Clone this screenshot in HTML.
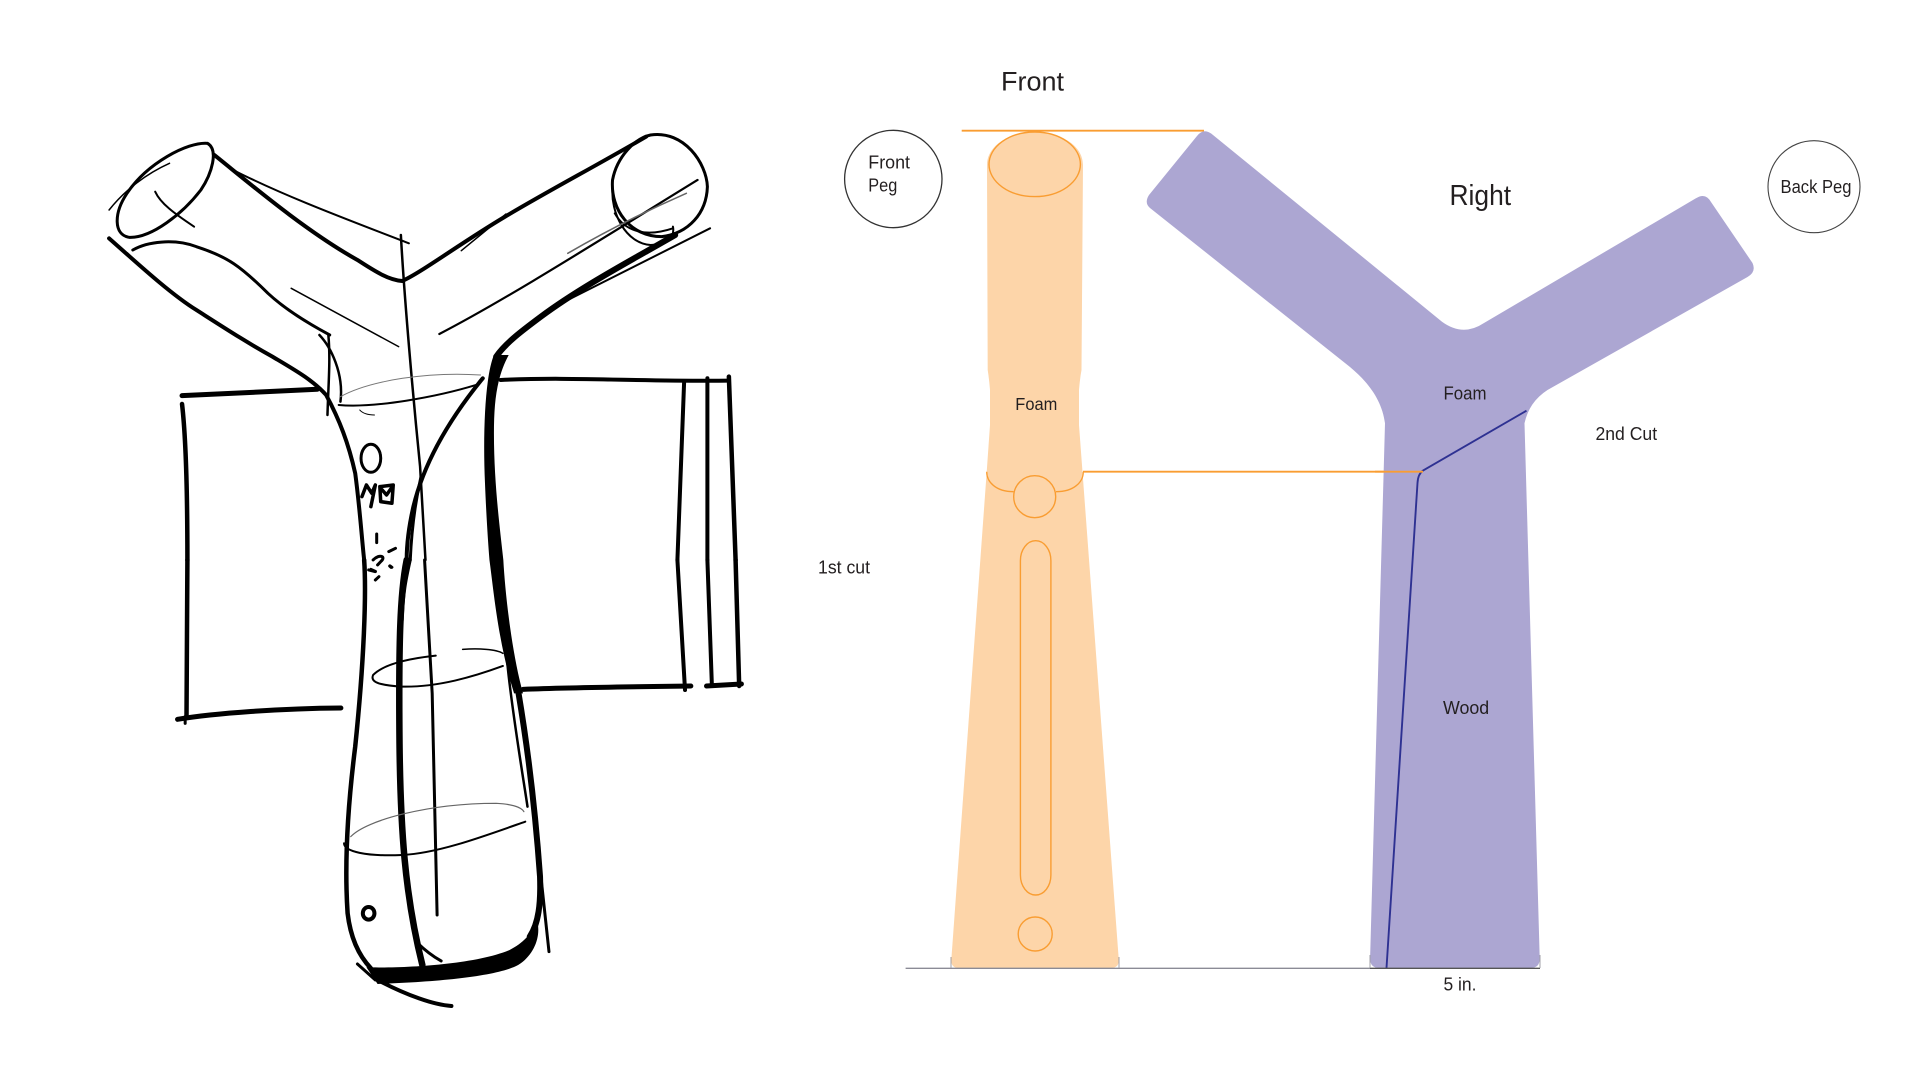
<!DOCTYPE html>
<html><head><meta charset="utf-8"><style>
html,body{margin:0;padding:0;background:#fff;width:1920px;height:1080px;overflow:hidden}
svg{display:block}
text{font-family:"Liberation Sans",sans-serif;fill:#231f20}
.s path,.s ellipse{fill:none;stroke:#000;stroke-linecap:round;stroke-linejoin:round;vector-effect:non-scaling-stroke}
.s .f{fill:#000;stroke:none}
</style></head><body>
<svg width="1920" height="1080" viewBox="0 0 1920 1080" xmlns="http://www.w3.org/2000/svg">
<rect width="1920" height="1080" fill="#fff"/>

<!-- Sketch upper -->
<g class="s" transform="translate(80,100) scale(.4475,.3333)">
<path stroke-width="3" d="M285,130 C240,125 150,190 105,280 C75,340 75,405 110,412 C160,415 230,340 270,270 C295,220 310,150 285,130"/>
<path stroke-width="1.5" d="M65,330 C100,270 150,220 200,190"/>
<path stroke-width="2" d="M168,275 C180,310 210,340 255,380"/>
<path stroke-width="4" d="M300,165 C370,240 500,390 620,480 C660,515 690,540 720,543 C760,520 850,430 950,350 C1050,270 1150,200 1265,110"/>
<path stroke-width="2" d="M335,205 C450,285 600,360 735,430"/>
<path stroke-width="2.5" d="M717,405 C725,600 745,900 760,1100 L772,1380"/>
<path stroke-width="1.5" d="M852,452 L952,342"/>
<path stroke-width="3" d="M1275,105 C1350,90 1400,190 1402,260 C1400,340 1360,400 1300,410 C1230,410 1185,330 1190,240 C1200,170 1240,115 1275,105"/>
<path stroke-width="2" d="M1190,260 C1185,340 1220,430 1275,435 C1310,435 1330,410 1325,380"/>
<path stroke-width="2" d="M1195,340 C1220,400 1270,410 1325,385"/>
<path stroke-width="2.2" d="M803,702 C950,600 1150,430 1380,240"/>
<path stroke-width="1.5" style="stroke:#666" d="M1090,460 C1180,390 1270,330 1355,280"/>
<path stroke-width="4" d="M65,415 C120,480 200,580 260,630 C330,690 370,725 430,770 C480,810 520,840 550,885 C580,960 600,1030 615,1120 C625,1220 630,1320 635,1380"/>
<path stroke-width="3" d="M118,450 C150,425 210,415 260,440 C330,470 360,500 420,580 C460,630 510,670 558,705"/>
<path stroke-width="2.5" d="M535,705 C560,740 590,820 582,905"/>
<path stroke-width="2.5" d="M555,705 C560,780 555,850 553,945"/>
<path stroke-width="1.5" d="M472,565 L712,740"/>
<path stroke-width="1" style="stroke:#777" d="M582,890 C650,840 780,815 895,825"/>
<path stroke-width="2" d="M578,915 C660,925 800,890 885,855"/>
<path stroke-width="1" d="M625,930 Q635,945 658,945"/>
<path stroke-width="6" d="M1330,405 C1240,475 1120,560 1030,650 C990,690 950,730 930,770"/>
<path class="f" d="M925,765 C905,830 900,1000 905,1150 C908,1250 912,1330 915,1380 L946,1380 C938,1280 925,1150 925,1000 C925,900 932,830 958,765 Z"/>
<path stroke-width="4" d="M900,835 C830,950 770,1080 745,1220 C733,1290 730,1340 730,1380"/>
<path stroke-width="3" d="M762,1130 C745,1230 740,1320 738,1380"/>
<path stroke-width="2" d="M1408,385 L1090,600"/>
<path stroke-width="5" d="M228,887 L530,868"/>
<path stroke-width="4.5" d="M228,912 C240,1050 240,1300 240,1380"/>
<path stroke-width="4" d="M940,840 C1100,830 1250,845 1450,842"/>
<path stroke-width="4" d="M1350,845 L1335,1380"/>
<path stroke-width="4" d="M1402,835 L1402,1380"/>
<path stroke-width="4.5" d="M1450,830 L1465,1380"/>
<ellipse stroke-width="3" cx="650" cy="1075" rx="22" ry="42"/>
<path stroke-width="3.5" d="M630,1190 L640,1155 L652,1180 L660,1155 L650,1220"/>
<path stroke-width="3.5" d="M670,1160 L700,1155 L697,1210 L672,1205 Z M672,1165 L685,1185 L698,1160"/>
<path stroke-width="3" d="M663,1302 L663,1328 M690,1355 L705,1345 M655,1380 C670,1360 685,1370 672,1385 L665,1395 M693,1398 L697,1402 M645,1410 L660,1415"/>
</g>

<!-- Sketch lower -->
<g class="s" transform="translate(80,560) scale(.4475,.3333)">
<path stroke-width="4.5" d="M240,0 L238,470"/>
<path stroke-width="5" d="M218,478 C300,460 450,445 583,444"/>
<path stroke-width="3" d="M235,470 L235,490"/>
<path stroke-width="4.5" d="M635,0 C640,100 635,300 615,560 C600,720 590,900 598,1060 C605,1140 625,1190 650,1225"/>
<path stroke-width="6.5" d="M730,0 C715,100 712,250 714,550 C716,800 725,1000 765,1215"/>
<path stroke-width="3" d="M738,0 C728,60 722,100 720,180"/>
<path stroke-width="3" d="M755,1150 C770,1170 790,1190 807,1203"/>
<path stroke-width="3" d="M770,0 L787,400 L798,1065"/>
<path class="f" d="M915,0 C925,100 935,250 970,400 L990,400 C965,280 950,100 946,0 Z"/>
<path stroke-width="6" d="M980,400 C1005,600 1020,800 1028,950 C1030,1030 1025,1090 1005,1130"/>
<path stroke-width="2.5" d="M955,310 C965,450 990,650 1000,740"/>
<path stroke-width="3" d="M1030,950 L1048,1175"/>
<path stroke-width="2" d="M795,287 C740,295 680,310 655,345 C650,360 655,375 720,380 C800,382 880,350 945,318"/>
<path stroke-width="1.5" d="M855,268 C890,265 930,267 945,280"/>
<path stroke-width="1.2" style="stroke:#666" d="M605,830 C640,780 780,730 930,730 C960,732 985,740 992,755"/>
<path stroke-width="2" d="M590,850 C590,875 640,890 720,885 C800,880 900,830 995,785"/>
<path stroke-width="5" d="M990,388 C1100,382 1250,380 1365,378"/>
<path stroke-width="4" d="M1335,0 L1352,390"/>
<path stroke-width="4" d="M1402,0 L1412,375"/>
<path stroke-width="4.5" d="M1465,0 L1473,378"/>
<path stroke-width="5" d="M1400,378 L1478,372"/>
<path class="f" d="M640,1222 C720,1225 880,1215 960,1170 C990,1150 1010,1120 1022,1085 C1030,1130 1015,1180 985,1210 C950,1245 820,1265 665,1272 Z"/>
<path stroke-width="3" d="M620,1212 L660,1260"/>
<path stroke-width="4" d="M672,1265 C730,1305 790,1335 830,1338"/>
<ellipse stroke-width="4" cx="645" cy="1060" rx="13" ry="19"/>
<path stroke-width="3" d="M650,28 L660,34 M668,50 L660,60 M692,18 L695,22"/>
</g>

<!-- Front view -->
<path fill="#fdd5a9" d="M987,165 C987,145 1010,132 1035,132 C1060,132 1083,145 1083,165 L1081.5,370 Q1080,378 1079,390 L1079,425 L1082.5,472 L1118.8,960 Q1119,968 1111,968 L959,968 Q951,968 951.3,960 L986.7,472 L990,425 L990,390 Q989,378 987.7,370 Z"/>
<g fill="none" stroke="#f99d32">
<path stroke-width="1.8" d="M961.7,130.7 L1204,130.7"/>
<ellipse stroke-width="1.4" cx="1034.7" cy="164.3" rx="45.7" ry="32.3"/>
<path stroke-width="1.8" d="M1083,471.7 L1423,471.7"/>
<path stroke-width="1.3" d="M986.7,471.7 C986.7,482 996,491.7 1013.6,491.7"/>
<path stroke-width="1.3" d="M1056,491.7 C1074,491.7 1083.3,482 1083.3,471.7"/>
<circle stroke-width="1.4" cx="1034.7" cy="496.7" r="21"/>
<rect stroke-width="1.4" x="1020.4" y="540.7" width="30.5" height="354.3" rx="15.2" ry="20"/>
<circle stroke-width="1.4" cx="1035.2" cy="934" r="17"/>
</g>

<!-- Right view -->
<path fill="#aca6d2" d="M1197,136 Q1204,127 1213,135 L1442,321.7 Q1463,337 1484,323 L1695.5,198.5 Q1705.5,192 1711,202 L1752.5,263 Q1756.5,272 1747.5,277 L1547.5,390 Q1529,402 1524.5,423.3 L1539.7,958 Q1540,968 1530.5,968 L1379.5,968 Q1369.8,968 1370.1,958 L1385,423.3 C1382,400 1368,382 1350,367 L1150,208 Q1144,203 1149,195 Z"/>
<path fill="none" stroke="#2e3192" stroke-width="1.9" d="M1526.5,410.7 L1423,470.5 Q1418,474 1417.5,483 L1386.5,968"/>
<path fill="none" stroke="#f99d32" stroke-width="1.8" d="M1375,471.7 L1423,471.7"/>

<!-- Baseline -->
<path fill="none" stroke="#8b8b96" stroke-width="1.3" d="M905.6,968.3 L1370,968.3"/>
<path fill="none" stroke="#555" stroke-width="1.3" d="M1370,968.3 L1540,968.3"/>
<path fill="none" stroke="#a0a0a8" stroke-width="1" d="M951,957 L951,968 M1119,957 L1119,968 M1370,955 L1370,968 M1540,955 L1540,968"/>

<!-- Pegs -->
<circle cx="893.3" cy="179" r="48.7" fill="#fff" stroke="#333" stroke-width="1.3"/>
<circle cx="1814" cy="186.7" r="46" fill="#fff" stroke="#444" stroke-width="1.1"/>

<!-- Labels -->
<text x="1001" y="90.7" font-size="27" textLength="63" lengthAdjust="spacingAndGlyphs">Front</text>
<text x="868.3" y="168.7" font-size="18" textLength="41.7" lengthAdjust="spacingAndGlyphs">Front</text>
<text x="868.3" y="191.7" font-size="18" textLength="29" lengthAdjust="spacingAndGlyphs">Peg</text>
<text x="1015.3" y="410" font-size="17.5" textLength="42" lengthAdjust="spacingAndGlyphs">Foam</text>
<text x="1449.5" y="205" font-size="29" textLength="61.6" lengthAdjust="spacingAndGlyphs">Right</text>
<text x="1780.5" y="193" font-size="18" textLength="71" lengthAdjust="spacingAndGlyphs">Back Peg</text>
<text x="1443.5" y="399.5" font-size="18" textLength="43" lengthAdjust="spacingAndGlyphs">Foam</text>
<text x="1595.5" y="440" font-size="18" textLength="61.6" lengthAdjust="spacingAndGlyphs">2nd Cut</text>
<text x="818" y="573.5" font-size="18" textLength="52" lengthAdjust="spacingAndGlyphs">1st cut</text>
<text x="1443" y="714" font-size="18" textLength="46.2" lengthAdjust="spacingAndGlyphs">Wood</text>
<text x="1443.5" y="990.7" font-size="18" textLength="33" lengthAdjust="spacingAndGlyphs">5 in.</text>
</svg>
</body></html>
